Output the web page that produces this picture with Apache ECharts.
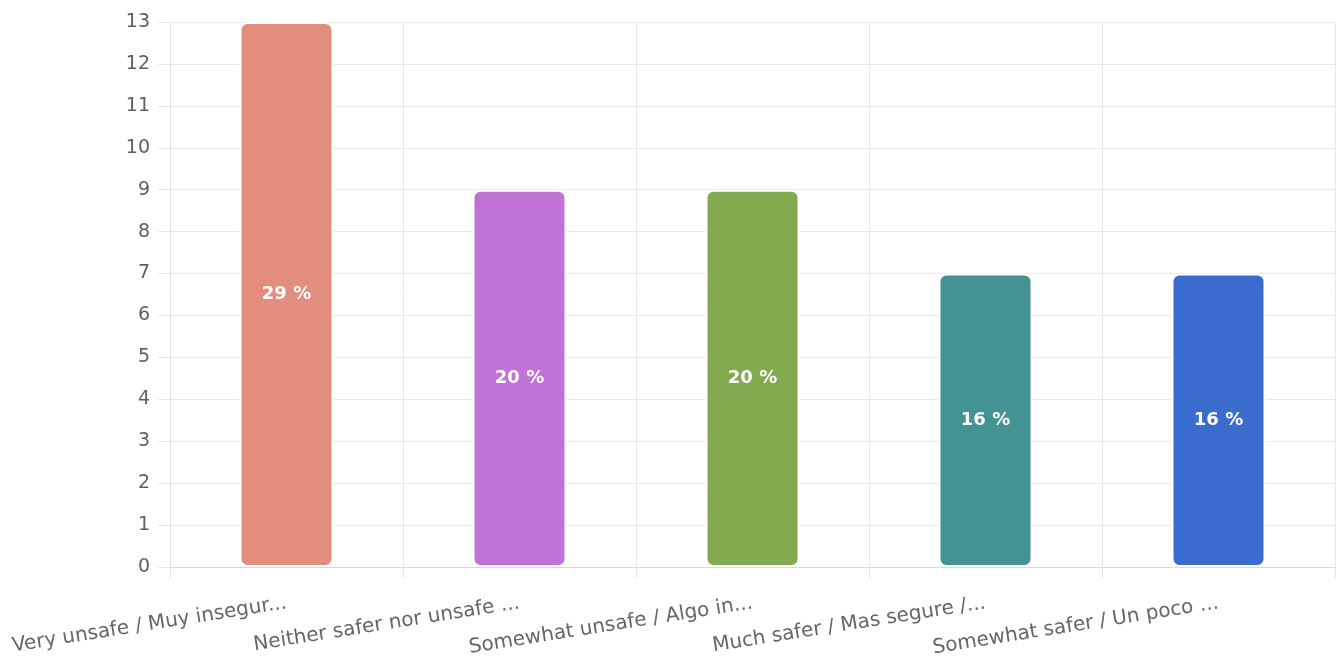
<!DOCTYPE html>
<html>
<head>
<meta charset="utf-8">
<script src="https://cdn.jsdelivr.net/npm/echarts@6/dist/echarts.min.js"></script>
<style>
  html, body { margin: 0; padding: 0; background: #fff; }
  #chart { width: 1341px; height: 664px; }
</style>
</head>
<body>
<div id="chart"></div>
<script>
// Survey answers: how safe respondents feel
const categories = [
  'Very unsafe / Muy insegur...',
  'Neither safer nor unsafe ...',
  'Somewhat unsafe / Algo in...',
  'Much safer / Mas segure /...',
  'Somewhat safer / Un poco ...'
];
const counts = [13, 9, 9, 7, 7];
const barColors = ['#E38E7C', '#C172D6', '#84AA50', '#449393', '#396CCC'];
const yTicks = { min: 0, max: 13, interval: 1 };

const total = counts.reduce((a, b) => a + b, 0);

const chart = echarts.init(document.getElementById('chart'), null, { renderer: 'canvas' });

chart.setOption({
  animation: false,
  textStyle: { fontFamily: 'DejaVu Sans, Liberation Sans, sans-serif' },
  grid: { left: 170, right: 6, top: 22, bottom: 97, containLabel: false },
  xAxis: {
    type: 'category',
    data: categories,
    axisLine: { show: true, lineStyle: { color: '#d9d9d9', width: 1 } },
    axisTick: { show: true, length: 11, lineStyle: { color: '#e3e3e3' } },
    splitLine: { show: true, lineStyle: { color: '#e6e6e6' } },
    axisLabel: {
      rotate: 9,
      color: '#666',
      fontSize: 20,
      margin: 36,
      interval: 0
    }
  },
  yAxis: {
    type: 'value',
    min: yTicks.min,
    max: yTicks.max,
    interval: yTicks.interval,
    axisLine: { show: true, lineStyle: { color: '#e0e0e0' } },
    axisTick: { show: true, length: 12, lineStyle: { color: '#e6e6e6' } },
    splitLine: { show: true, lineStyle: { color: '#e8e8e8' } },
    axisLabel: { color: '#5f5f5f', fontSize: 19, margin: 20 }
  },
  series: [{
    type: 'bar',
    barWidth: 94,
    data: counts.map((v, i) => ({
      value: v,
      itemStyle: { color: barColors[i], borderRadius: 7, borderColor: '#fff', borderWidth: 2 }
    })),
    label: {
      show: true,
      position: 'inside',
      color: '#fff',
      fontSize: 18,
      fontWeight: 'bold',
      formatter: p => Math.round(p.value / total * 100) + ' %'
    }
  }]
});
</script>
</body>
</html>
